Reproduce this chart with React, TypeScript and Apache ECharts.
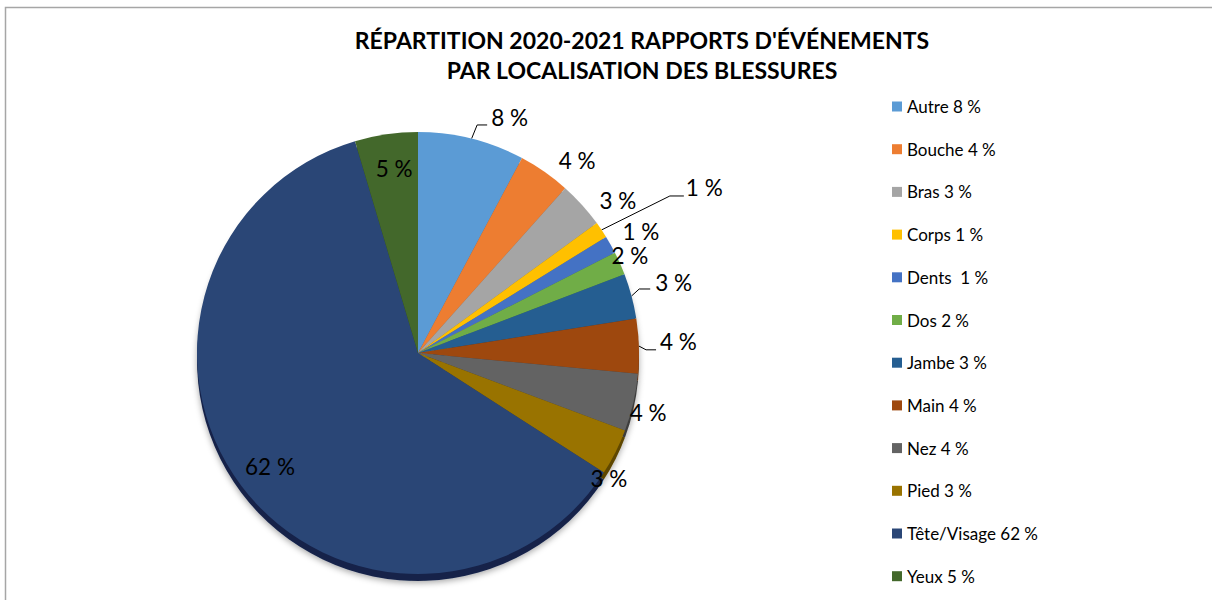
import React, { useEffect, useRef } from "react";
import * as echarts from "echarts";

const categories = [
  "Autre 8 %",
  "Bouche 4 %",
  "Bras 3 %",
  "Corps 1 %",
  "Dents  1 %",
  "Dos 2 %",
  "Jambe 3 %",
  "Main 4 %",
  "Nez 4 %",
  "Pied 3 %",
  "Tête/Visage 62 %",
  "Yeux 5 %",
];
const values = [7.8, 3.8, 3.4, 1.2, 1.3, 1.7, 3.3, 4.0, 4.2, 3.4, 61.3, 4.6];
const labelTexts = ["8 %", "4 %", "3 %", "1 %", "1 %", "2 %", "3 %", "4 %", "4 %", "3 %", "62 %", "5 %"];
const colors = [
  "#5B9BD5", "#ED7D31", "#A5A5A5", "#FFC000", "#4472C4", "#70AD47",
  "#255E91", "#9E480E", "#636363", "#997300", "#2A4676", "#43682B",
];
const sideColors = [
  "#3d6e9c", "#a8541c", "#707070", "#b38600", "#2d4f8c", "#4d7a30",
  "#173d60", "#6a2f08", "#3e3e3e", "#5e4700", "#15244a", "#2b441b",
];
const titleText = "RÉPARTITION 2020-2021 RAPPORTS D'ÉVÉNEMENTS\nPAR LOCALISATION DES BLESSURES";

// label placement: k = radial factor, da = angle shift (deg); leader = [k2, da2, horizontal length]
const labelPlacement: any[] = [
  { leader: [1.066, 0.5, 10], gap: 4, dy: -7 },
  { k: 1.131, da: 4.6 },
  { k: 1.139, da: 4.7 },
  { leader: [1.343, 1.9, 14], gap: 2, dy: -8 },
  { k: 1.148, da: 0.8 },
  { k: 1.055, da: -0.7 },
  { leader: [1.042, -1.2, 11], gap: 5, dy: -6 },
  { leader: [1.032, 1.0, 10], gap: 4, dy: -8 },
  { k: 1.076, da: 1.6 },
  { k: 1.033, da: 6.6 },
  { k: 0.843, da: -0.5 },
  { k: 0.84, da: 0.9 },
];

const CX = 418;
const CY = 353;
const R = 221;
const FONT = "Lato, 'Noto Sans', sans-serif";

export default function App() {
  const ref = useRef<HTMLDivElement>(null);
  useEffect(() => {
    document.body.style.margin = "0";
    if (!ref.current) return;
    const chart = echarts.init(ref.current, undefined, { renderer: "svg" });
    const total = values.reduce((a, b) => a + b, 0);
    const mids: number[] = [];
    let acc = 0;
    values.forEach((v) => {
      mids.push(((acc + v / 2) / total) * 360);
      acc += v;
    });
    const pt = (k: number, deg: number) => {
      const a = (deg * Math.PI) / 180;
      return [CX + R * k * Math.sin(a), CY - R * k * Math.cos(a)];
    };
    const mainData = categories.map((name, i) => ({
      name,
      value: values[i],
      itemStyle: { color: colors[i] },
      labelLine: { show: !!labelPlacement[i].leader },
    }));
    const sideData = categories.map((name, i) => ({
      name,
      value: values[i],
      itemStyle: { color: sideColors[i] },
    }));
    chart.setOption({
      animation: false,
      backgroundColor: "#ffffff",
      title: {
        text: titleText,
        left: 637,
        top: 20,
        textAlign: "center",
        textStyle: {
          fontFamily: FONT,
          fontWeight: "bold",
          fontSize: 23,
          lineHeight: 30,
          color: "#000000",
        },
      },
      legend: {
        orient: "vertical",
        left: 892,
        top: 98,
        padding: 0,
        itemWidth: 10,
        itemHeight: 10,
        itemGap: 25.7,
        icon: "rect",
        selectedMode: false,
        data: categories.map((name, i) => ({ name, itemStyle: { color: colors[i] } })),
        textStyle: { fontFamily: FONT, fontSize: 17, lineHeight: 16, color: "#000000" },
      },
      graphic: [
        {
          type: "polyline",
          shape: { points: [[5.5, 620], [5.5, 7.5], [1220, 7.5]] },
          style: { stroke: "#a6a6a6", lineWidth: 1.5, fill: "none" },
          silent: true,
        },
      ],
      series: [
        {
          type: "pie",
          name: "side",
          center: [CX, CY + 7],
          radius: R,
          startAngle: 90,
          clockwise: true,
          silent: true,
          z: 1,
          label: { show: false },
          labelLine: { show: false },
          itemStyle: {
            borderWidth: 0,
            shadowBlur: 6,
            shadowColor: "rgba(0,0,0,0.35)",
            shadowOffsetY: 2,
          },
          data: sideData,
        },
        {
          type: "pie",
          name: "main",
          center: [CX, CY],
          radius: R,
          startAngle: 90,
          clockwise: true,
          avoidLabelOverlap: false,
          silent: true,
          z: 2,
          itemStyle: { borderWidth: 0 },
          label: {
            show: true,
            position: "outside",
            formatter: (p: any) => labelTexts[p.dataIndex],
            fontFamily: FONT,
            fontSize: 22.5,
            color: "#000000",
          },
          labelLine: { show: true, lineStyle: { color: "#000000", width: 1 } },
          labelLayout: (p: any) => {
            const i = p.dataIndex;
            const s = labelPlacement[i];
            if (s.leader) {
              const [k2, da2, len] = s.leader;
              const p1 = pt(1, mids[i]);
              const p2 = pt(k2, mids[i] + da2);
              const p3 = [p2[0] + len, p2[1]];
              return {
                x: p3[0] + s.gap,
                y: p2[1] + s.dy,
                align: "left",
                verticalAlign: "middle",
                labelLinePoints: [p1, p2, p3],
              };
            }
            const c = pt(s.k, mids[i] + s.da);
            return { x: c[0], y: c[1], align: "center", verticalAlign: "middle" };
          },
          data: mainData,
        },
      ],
    });
    return () => chart.dispose();
  }, []);
  return <div ref={ref} style={{ width: 1212, height: 600 }} />;
}
